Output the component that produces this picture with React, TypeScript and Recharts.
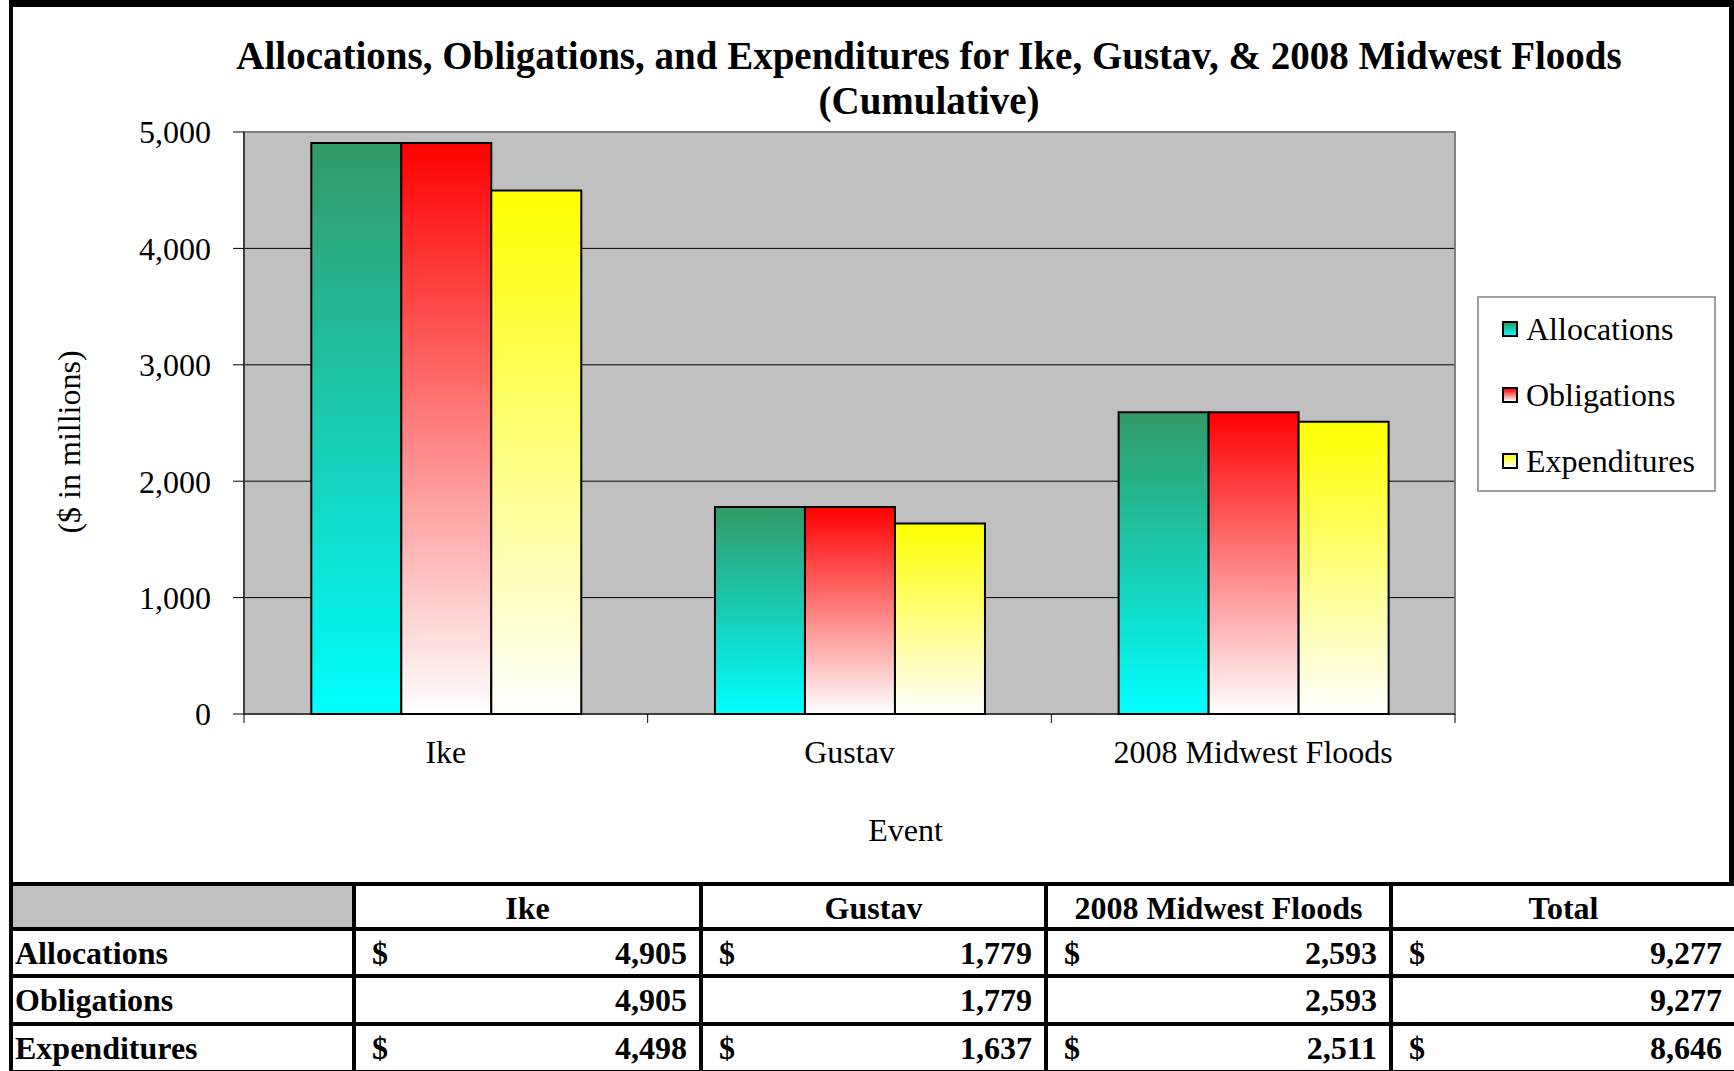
import React from 'react';
import { BarChart, Bar, XAxis, YAxis, CartesianGrid, Legend, ReferenceArea } from 'recharts';

const categories = ['Ike', 'Gustav', '2008 Midwest Floods'];
const allocations = [4905, 1779, 2593];
const obligations = [4905, 1779, 2593];
const expenditures = [4498, 1637, 2511];
const yTicks = [0, 1000, 2000, 3000, 4000, 5000];
const seriesNames = ['Allocations', 'Obligations', 'Expenditures'];
const tableHeaders = ['Ike', 'Gustav', '2008 Midwest Floods', 'Total'];
const dollarRows = [true, false, true];

const data = categories.map((c, i) => ({
  name: c,
  Allocations: allocations[i],
  Obligations: obligations[i],
  Expenditures: expenditures[i],
}));

const FONT = '"Liberation Serif", "Times New Roman", serif';
const W = 1734;
const CH = 884;
const M = { top: 132, right: 279, bottom: 0, left: 0 };
const YW = 244;
const XH = 170;
const PLOT_W = W - M.left - M.right - YW;
const BAND = PLOT_W / categories.length;
const TICK_SIZE = 9;
const TICK_MARGIN = 17;

const gradients = [
  { id: 'gA', top: '#339966', bottom: '#00FFFF' },
  { id: 'gO', top: '#FF0000', bottom: '#FFFFFF' },
  { id: 'gE', top: '#FFFF00', bottom: '#FFFFFF' },
];

const fmt = (v: number) => v.toLocaleString('en-US');

const XTick = (props: any) => {
  const { x, y, payload, index } = props;
  const axisY = y - TICK_SIZE - TICK_MARGIN;
  return (
    <g>
      <line x1={x - BAND / 2} x2={x - BAND / 2} y1={axisY} y2={axisY + TICK_SIZE} stroke="#000" strokeWidth={1} />
      {index === categories.length - 1 && (
        <line x1={x + BAND / 2} x2={x + BAND / 2} y1={axisY} y2={axisY + TICK_SIZE} stroke="#000" strokeWidth={1} />
      )}
      <text x={x} y={y} dy="0.71em" textAnchor="middle" fontFamily={FONT} fontSize={32} fill="#000">
        {payload.value}
      </text>
    </g>
  );
};

const YLabel = (props: any) => {
  const vb = props.viewBox || {};
  const cx = vb.x + 69;
  const cy = vb.y + vb.height / 2 + 19;
  return (
    <text x={cx} y={cy} transform={`rotate(-90 ${cx} ${cy})`} textAnchor="middle" dominantBaseline="central" fontFamily={FONT} fontSize={32} fill="#000">
      ($ in millions)
    </text>
  );
};

const XLabel = (props: any) => {
  const vb = props.viewBox || {};
  const cx = vb.x + vb.width / 2 + 56;
  const by = vb.y + 127;
  return (
    <text x={cx} y={by} textAnchor="middle" fontFamily={FONT} fontSize={32} fill="#000">
      Event
    </text>
  );
};

const LegendBox = () => (
  <div style={{ width: 239, height: 196, boxSizing: 'border-box', border: '2px solid #A0A0A0', background: '#fff', position: 'relative', fontFamily: FONT, fontSize: 32 }}>
    {seriesNames.map((n, i) => (
      <div key={n} style={{ position: 'absolute', left: 23, top: 31 + i * 66 - 20, height: 40, display: 'flex', alignItems: 'center', whiteSpace: 'nowrap', color: '#000' }}>
        <span style={{ width: 16, height: 16, boxSizing: 'border-box', border: '2px solid #000', background: `linear-gradient(${gradients[i].top}, ${gradients[i].bottom})`, marginRight: 8, display: 'inline-block' }} />
        <span>{n}</span>
      </div>
    ))}
  </div>
);

const colWidths = [339, 343, 341, 341, 341];
const rowHeights = [41, 43, 44, 44];

const Table = () => {
  const rows = [allocations, obligations, expenditures];
  const cellBase: React.CSSProperties = { background: '#fff', fontFamily: FONT, fontWeight: 700, fontSize: 32, display: 'flex', alignItems: 'center', overflow: 'hidden', whiteSpace: 'nowrap', color: '#000' };
  return (
    <div style={{ position: 'absolute', left: 9, top: 882, width: 1725, height: 189, boxSizing: 'border-box', paddingTop: 4, paddingLeft: 4, background: '#000', display: 'grid', gridTemplateColumns: colWidths.map((w) => w + 'px').join(' '), gridTemplateRows: rowHeights.map((h) => h + 'px').join(' '), columnGap: 4, rowGap: 4 }}>
      <div style={{ ...cellBase, background: '#C0C0C0' }} />
      {tableHeaders.map((h) => (
        <div key={h} style={{ ...cellBase, justifyContent: 'center', paddingTop: 3 }}>{h}</div>
      ))}
      {rows.map((vals, r) => {
        const total = vals.reduce((a, b) => a + b, 0);
        const all = [...vals, total];
        return (
          <React.Fragment key={r}>
            <div style={{ ...cellBase, paddingLeft: 2, paddingTop: 1 }}>{seriesNames[r]}</div>
            {all.map((v, c) => (
              <div key={c} style={{ ...cellBase, justifyContent: 'space-between', padding: '1px 12px 0 16px' }}>
                <span>{dollarRows[r] ? '$' : ''}</span>
                <span>{fmt(v)}</span>
              </div>
            ))}
          </React.Fragment>
        );
      })}
    </div>
  );
};

export default function App() {
  return (
    <div style={{ position: 'absolute', left: 0, top: 0, width: W, height: 1071, background: '#fff', overflow: 'hidden' }}>
      <div style={{ position: 'absolute', left: 9, top: 0, width: W - 9, height: 886, boxSizing: 'border-box', borderTop: '7px solid #000', borderLeft: '4px solid #000', borderRight: '5px solid #000' }} />
      <div style={{ position: 'absolute', left: 29, top: 33, width: 1800, textAlign: 'center', fontFamily: FONT, fontWeight: 700, fontSize: 39, lineHeight: '45px', color: '#000' }}>
        Allocations, Obligations, and Expenditures for Ike, Gustav, &amp; 2008 Midwest Floods
        <br />
        (Cumulative)
      </div>
      <div style={{ position: 'absolute', left: 0, top: 0 }}>
        <BarChart width={W} height={CH} data={data} margin={M} barCategoryGap="16.67%" barGap={0}>
          <defs>
            {gradients.map((g) => (
              <linearGradient key={g.id} id={g.id} x1="0" y1="0" x2="0" y2="1">
                <stop offset="0%" stopColor={g.top} />
                <stop offset="100%" stopColor={g.bottom} />
              </linearGradient>
            ))}
          </defs>
          <CartesianGrid vertical={false} stroke="#000" strokeWidth={1} fill="#C0C0C0" fillOpacity={1} horizontalValues={[1000, 2000, 3000, 4000]} />
          <ReferenceArea y1={0} y2={5000} fill="none" stroke="#808080" strokeWidth={2} ifOverflow="visible" />
          <XAxis dataKey="name" height={XH} tickLine={false} tickSize={TICK_SIZE} tickMargin={TICK_MARGIN} stroke="#000" tick={<XTick />} interval={0} label={<XLabel />} />
          <YAxis width={YW} domain={[0, 5000]} ticks={yTicks} tickFormatter={fmt} tickSize={11} tickMargin={22} stroke="#000" tick={{ fontFamily: FONT, fontSize: 32, fill: '#000' }} label={<YLabel />} interval={0} />
          <Legend layout="vertical" align="center" verticalAlign="middle" wrapperStyle={{ left: 1477, top: 296, width: 239, height: 196 }} content={<LegendBox />} />
          {seriesNames.map((s, i) => (
            <Bar key={s} dataKey={s} fill={`url(#${gradients[i].id})`} stroke="#000" strokeWidth={2} isAnimationActive={false} />
          ))}
        </BarChart>
      </div>
      <Table />
    </div>
  );
}
